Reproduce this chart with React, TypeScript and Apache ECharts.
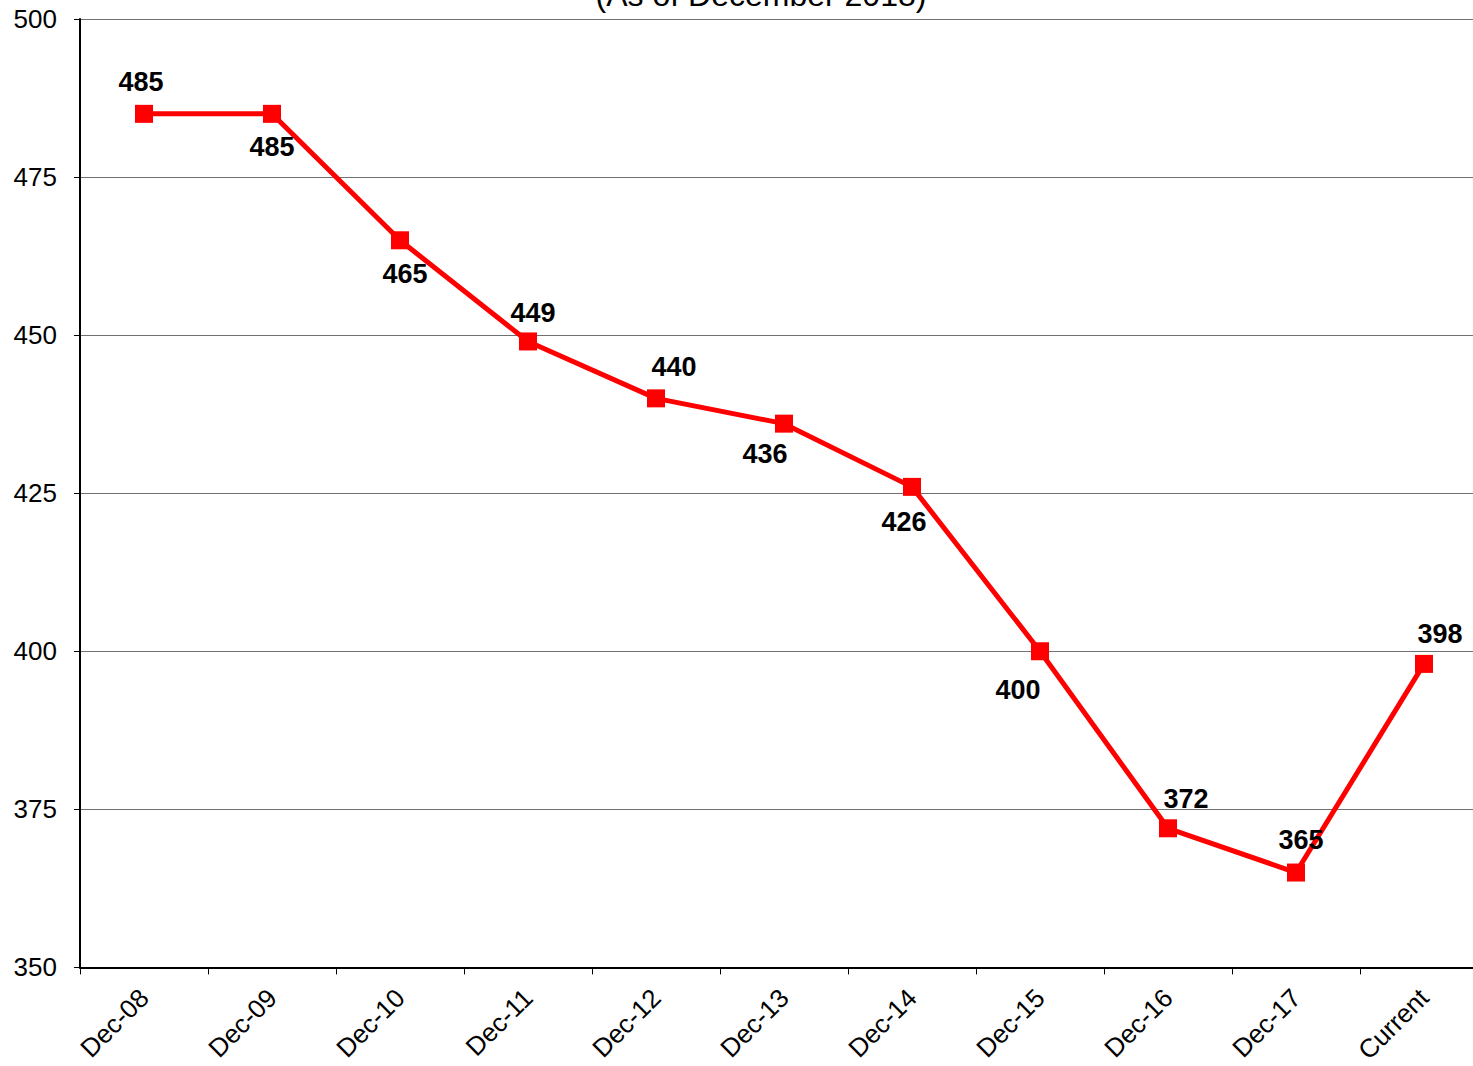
import React, { useEffect, useRef } from "react";
import * as echarts from "echarts";

const categories = ["Dec-08", "Dec-09", "Dec-10", "Dec-11", "Dec-12", "Dec-13", "Dec-14", "Dec-15", "Dec-16", "Dec-17", "Current"];
const values = [485, 485, 465, 449, 440, 436, 426, 400, 372, 365, 398];
const labelPlacement: ["top" | "bottom", number, number][] = [
  ["top", -3, -1],
  ["bottom", 0, 3],
  ["bottom", 5, 3],
  ["top", 5, 2],
  ["top", 18, -1],
  ["bottom", -19, 0],
  ["bottom", -8, 5],
  ["bottom", -22, 8],
  ["top", 18, 1],
  ["top", 5, -2],
  ["top", 16, 1],
];
const titleText = "(As of December 2018)";
const FONT = "'Liberation Sans', Arial, sans-serif";

export default function App() {
  const ref = useRef<HTMLDivElement>(null);
  useEffect(() => {
    if (!ref.current) return;
    const chart = echarts.init(ref.current, null, { renderer: "svg" });
    chart.setOption({
      animation: false,
      backgroundColor: "#ffffff",
      grid: { left: 80, right: 0, top: 19, bottom: 98, containLabel: false },
      graphic: [
        {
          type: "text",
          x: 761,
          y: -21,
          style: { text: titleText, font: `32px ${FONT}`, fill: "#000", textAlign: "center", textVerticalAlign: "top" },
        },
      ],
      xAxis: {
        type: "category",
        data: categories,
        boundaryGap: true,
        axisLine: { lineStyle: { color: "#000", width: 2 } },
        axisTick: { show: true, length: 7, alignWithLabel: false, lineStyle: { color: "#000", width: 1 } },
        axisLabel: { rotate: 45, fontSize: 26, fontFamily: FONT, color: "#000", margin: 26 },
      },
      yAxis: {
        type: "value",
        min: 350,
        max: 500,
        interval: 25,
        axisLine: { show: true, lineStyle: { color: "#000", width: 2 } },
        axisTick: { show: true, length: 6, lineStyle: { color: "#000" } },
        axisLabel: { fontSize: 26, fontFamily: FONT, color: "#000", margin: 23 },
        splitLine: { show: true, lineStyle: { color: "#707070", width: 1 } },
      },
      series: [
        {
          type: "line",
          data: values.map((v, i) => ({
            value: v,
            label: {
              position: labelPlacement[i][0],
              offset: [labelPlacement[i][1], labelPlacement[i][2]],
            },
          })),
          symbol: "rect",
          symbolSize: 18,
          lineStyle: { color: "#ff0000", width: 5 },
          itemStyle: { color: "#ff0000" },
          label: {
            show: true,
            fontSize: 27,
            fontWeight: "bold",
            fontFamily: FONT,
            color: "#000",
            distance: 8,
          },
        },
      ],
    });
    return () => chart.dispose();
  }, []);
  return (
    <div style={{ position: "fixed", left: 0, top: 0, width: 1473, height: 1066, overflow: "hidden", background: "#fff" }}>
      <div ref={ref} style={{ width: 1488, height: 1066 }} />
    </div>
  );
}
